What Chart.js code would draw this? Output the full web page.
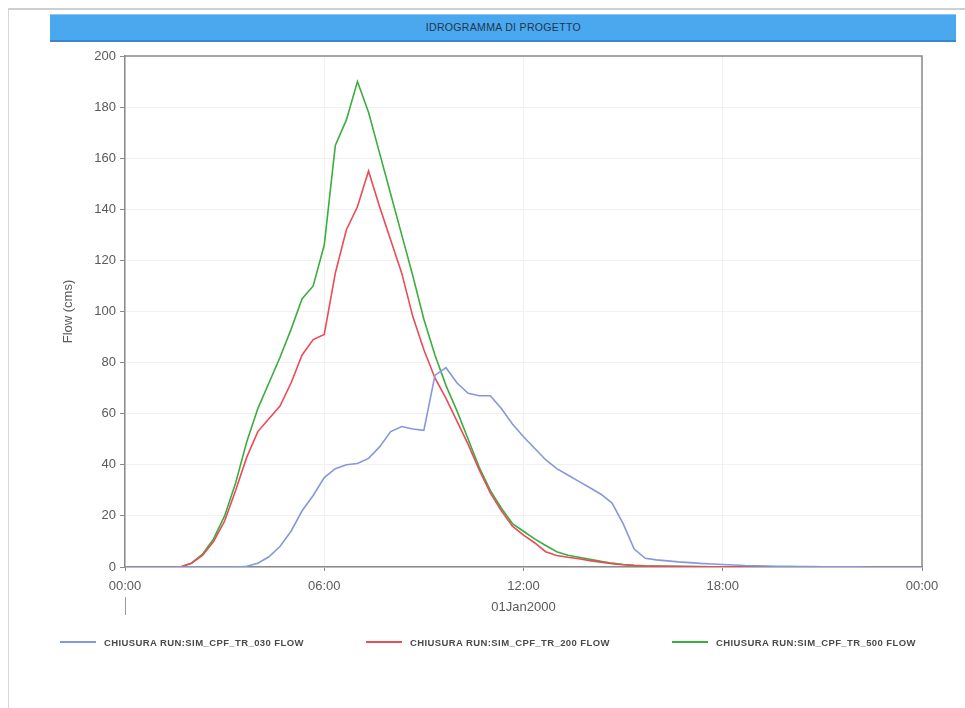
<!DOCTYPE html>
<html>
<head>
<meta charset="utf-8">
<script src="https://cdn.jsdelivr.net/npm/chart.js@4.4.1/dist/chart.umd.min.js"></script>
<style>
  html, body { margin: 0; padding: 0; background: #ffffff; }
  body { width: 965px; height: 708px; position: relative; overflow: hidden; font-family: "Liberation Sans", Arial, sans-serif; }
  #frame { position: absolute; left: 8px; top: 8px; width: 970px; height: 720px; border-top: 2px solid #cfcfcf; border-left: 1px solid #d6d6d6; }
  #titlebar { position: absolute; left: 50px; top: 14px; width: 906px; height: 25px; background: #4aa8ef; border-bottom: 2px solid #3b86c6; border-top: 1px solid #8cc6f2; text-align: center; }
  #titlebar span { display: inline-block; line-height: 25px; font-size: 11.5px; color: #22364e; letter-spacing: 0.3px; transform: scaleX(0.92); }
  #wrap { position: absolute; left: 0; top: 0; width: 965px; height: 708px; }
  #legend { position: absolute; left: 0; top: 0; width: 965px; height: 708px; pointer-events: none; }
  .item { position: absolute; height: 12px; display: flex; align-items: center; }
  .item i { display: inline-block; width: 36px; height: 0; border-top: 2px solid; margin-right: 8px; }
  .item span { font-size: 9.5px; font-weight: bold; color: #4a4a4a; white-space: nowrap; letter-spacing: 0.4px; }
</style>
</head>
<body>
<div id="frame"></div>
<div id="titlebar"><span>IDROGRAMMA DI PROGETTO</span></div>
<div id="wrap"><canvas id="c" width="965" height="708"></canvas></div>
<div id="legend"></div>
<script>
// Time steps of the simulation (20-minute interval over one day)
const stepTimes = [
  "00:00","00:20","00:40","01:00","01:20","01:40","02:00","02:20","02:40",
  "03:00","03:20","03:40","04:00","04:20","04:40","05:00","05:20","05:40",
  "06:00","06:20","06:40","07:00","07:20","07:40","08:00","08:20","08:40",
  "09:00","09:20","09:40","10:00","10:20","10:40","11:00","11:20","11:40",
  "12:00","12:20","12:40","13:00","13:20","13:40","14:00","14:20","14:40",
  "15:00","15:20","15:40","16:00","16:20","16:40","17:00","17:20","17:40",
  "18:00","18:20","18:40","19:00","19:20","19:40","20:00","20:20","20:40",
  "21:00","21:20","21:40","22:00","22:20","22:40","23:00","23:20","23:40",
  "24:00"
];

// Outflow at CHIUSURA (cms) for each return period
const flowTr030 = [
  0,0,0,0,0,0,0,0,0,
  0,0,0.3,1.5,4,8,14,22,28,
  35,38.5,40,40.5,42.5,47,53,55,54,
  53.5,75,78,72,68,67,67,62,56,
  51,46.5,42,38.5,36,33.5,31,28.5,25,
  17,7,3.4,2.8,2.4,2.0,1.7,1.4,1.2,
  1.0,0.8,0.6,0.5,0.4,0.3,0.25,0.2,0.15,
  0.1,0.08,0.05,0.03,0,0,0,0,0,
  0
];
const flowTr200 = [
  0,0,0,0,0,0,1.5,4.5,10,
  18,30,43,53,58,63,72,83,89,
  91,115,132,141,155,141,128,115,98,
  85,74,66,57,48,38,29,22,16,
  12.5,9.5,6,4.5,3.8,3.2,2.5,1.9,1.3,
  0.9,0.6,0.4,0.3,0.25,0.2,0.15,0.1,0.08,
  0.05,0.03,0,0,0,0,0,0,0,
  0,0,0,0,0,0,0,0,0,
  0
];
const flowTr500 = [
  0,0,0,0,0,0,1.5,5,11,
  20,33,49,62,72,82,93,105,110,
  126,165,175,190,178,162,146,130,114,
  97,83,71,61,50,39,30,23,17,
  14,11,8.4,6,4.6,3.8,3,2.2,1.5,
  1.0,0.7,0.5,0.4,0.3,0.25,0.2,0.15,0.1,
  0.08,0.05,0.03,0,0,0,0,0,0,
  0,0,0,0,0,0,0,0,0,
  0
];

const seriesNames = [
  "CHIUSURA RUN:SIM_CPF_TR_030 FLOW",
  "CHIUSURA RUN:SIM_CPF_TR_200 FLOW",
  "CHIUSURA RUN:SIM_CPF_TR_500 FLOW"
];
const seriesColors = ["#8797dc", "#ec4a56", "#3aae3e"];
const hourTicks = ["00:00", "06:00", "12:00", "18:00", "00:00"];
const dateLabel = "01Jan2000";
const yTitle = "Flow (cms)";

function toHours(s) {
  const p = s.split(":");
  return Number(p[0]) + Number(p[1]) / 60;
}
const hours = stepTimes.map(toHours);
const pts = vals => vals.map((v, i) => ({ x: hours[i], y: v }));

// Box around the plot area plus the day marker under the first tick
const frameBox = {
  id: "frameBox",
  afterDraw(chart) {
    const { ctx, chartArea: a, scales } = chart;
    ctx.save();
    ctx.strokeStyle = "#8a8a8a";
    ctx.lineWidth = 1.5;
    ctx.beginPath();
    ctx.moveTo(a.left, a.top);
    ctx.lineTo(a.right, a.top);
    ctx.lineTo(a.right, a.bottom);
    ctx.stroke();
    const x0 = Math.round(scales.x.getPixelForValue(0)) + 0.5;
    ctx.strokeStyle = "#9a9a9a";
    ctx.lineWidth = 1;
    ctx.beginPath();
    ctx.moveTo(x0, a.bottom + 30);
    ctx.lineTo(x0, a.bottom + 48);
    ctx.stroke();
    ctx.restore();
  }
};

const tickFont = { family: "'Liberation Sans', Arial, sans-serif", size: 13 };

new Chart(document.getElementById("c"), {
  type: "line",
  data: {
    datasets: [flowTr030, flowTr200, flowTr500].map((vals, i) => ({
      label: seriesNames[i],
      data: pts(vals),
      borderColor: seriesColors[i],
      backgroundColor: seriesColors[i],
      borderWidth: 1.6,
      pointRadius: 0,
      tension: 0,
      fill: false
    }))
  },
  options: {
    responsive: false,
    animation: false,
    events: [],
    layout: { padding: { left: 57, top: 56, right: 43, bottom: 81 } },
    plugins: { legend: { display: false }, tooltip: { enabled: false }, title: { display: false } },
    scales: {
      x: {
        type: "linear",
        min: 0,
        max: 24,
        afterFit(s) { s.height = 60; },
        afterBuildTicks(s) { s.ticks = [0, 6, 12, 18, 24].map(v => ({ value: v })); },
        ticks: {
          color: "#5a5a5a",
          font: tickFont,
          padding: 8,
          maxRotation: 0,
          callback: (v) => hourTicks[Math.round(v / 6)]
        },
        grid: { color: "#f1f1f1", tickColor: "#8a8a8a", tickLength: 4, drawTicks: true },
        border: { color: "#8a8a8a", width: 1.5 },
        title: { display: true, text: dateLabel, color: "#5a5a5a", font: tickFont, padding: { top: 0, bottom: 12 } }
      },
      y: {
        min: 0,
        max: 200,
        afterFit(s) { s.width = 68; },
        ticks: { stepSize: 20, color: "#5a5a5a", font: tickFont, padding: 4 },
        grid: { color: "#f1f1f1", tickColor: "#8a8a8a", tickLength: 5 },
        border: { color: "#8a8a8a", width: 1.5 },
        title: { display: true, text: yTitle, color: "#5a5a5a", font: tickFont, padding: { top: 4, bottom: 0 } }
      }
    }
  },
  plugins: [frameBox]
});

// Legend row under the chart
const legendPos = [60, 366, 672];
const legend = document.getElementById("legend");
seriesNames.forEach((name, i) => {
  const d = document.createElement("div");
  d.className = "item";
  d.style.left = legendPos[i] + "px";
  d.style.top = "636px";
  const ln = document.createElement("i");
  ln.style.borderColor = seriesColors[i];
  const t = document.createElement("span");
  t.textContent = name;
  d.appendChild(ln);
  d.appendChild(t);
  legend.appendChild(d);
});
</script>
</body>
</html>
